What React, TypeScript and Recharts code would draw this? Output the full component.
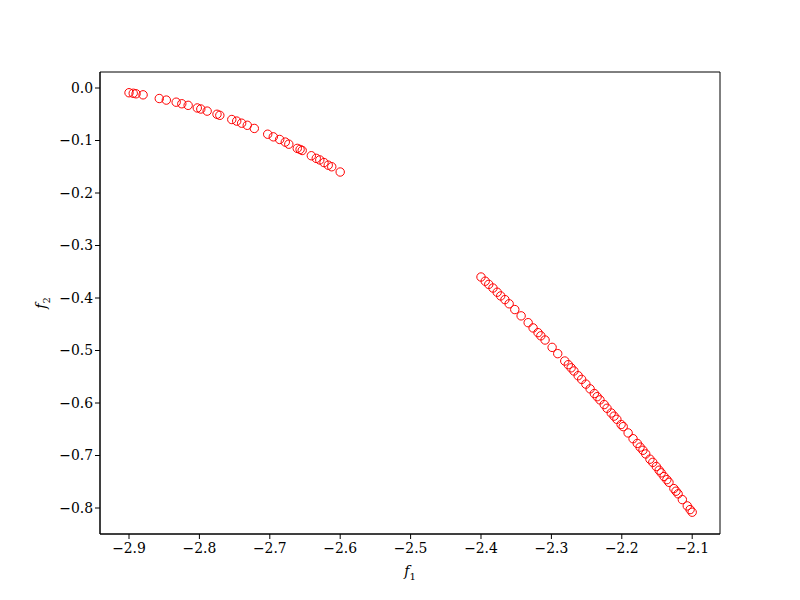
import { ScatterChart, Scatter, XAxis, YAxis, ReferenceArea } from 'recharts'

// f1 / f2, left front and right front
const leftF1 = [
  -2.900, -2.894, -2.890, -2.880, -2.857, -2.847, -2.833, -2.825, -2.816, -2.803,
  -2.798, -2.789, -2.775, -2.771, -2.754, -2.747, -2.740, -2.732, -2.722, -2.703,
  -2.695, -2.686, -2.678, -2.673, -2.661, -2.657, -2.654, -2.641, -2.634, -2.629,
  -2.623, -2.617, -2.612, -2.600,
]
const leftF2 = [
  -0.009, -0.010, -0.011, -0.013, -0.020, -0.023, -0.027, -0.030, -0.033, -0.038,
  -0.040, -0.044, -0.050, -0.052, -0.060, -0.063, -0.067, -0.071, -0.077, -0.088,
  -0.093, -0.098, -0.103, -0.107, -0.115, -0.117, -0.119, -0.129, -0.134, -0.137,
  -0.142, -0.147, -0.150, -0.160,
]
const rightF1 = [
  -2.400, -2.394, -2.389, -2.383, -2.377, -2.372, -2.366, -2.360, -2.352, -2.343,
  -2.333, -2.326, -2.319, -2.315, -2.309, -2.299, -2.291, -2.281, -2.276, -2.272,
  -2.268, -2.262, -2.257, -2.251, -2.245, -2.239, -2.235, -2.231, -2.225, -2.221,
  -2.215, -2.211, -2.207, -2.201, -2.198, -2.191, -2.184, -2.178, -2.174, -2.170,
  -2.166, -2.160, -2.156, -2.151, -2.147, -2.144, -2.140, -2.136, -2.133, -2.126,
  -2.123, -2.120, -2.114, -2.107, -2.103, -2.100,
]
const rightF2 = [
  -0.360, -0.368, -0.374, -0.381, -0.389, -0.396, -0.403, -0.411, -0.422, -0.434,
  -0.447, -0.457, -0.466, -0.472, -0.480, -0.494, -0.506, -0.520, -0.527, -0.533,
  -0.539, -0.548, -0.555, -0.564, -0.573, -0.582, -0.588, -0.594, -0.603, -0.610,
  -0.619, -0.625, -0.631, -0.641, -0.645, -0.657, -0.668, -0.677, -0.684, -0.690,
  -0.697, -0.707, -0.713, -0.721, -0.728, -0.733, -0.740, -0.746, -0.751, -0.763,
  -0.768, -0.773, -0.784, -0.796, -0.803, -0.808,
]

const xTicks = [-2.9, -2.8, -2.7, -2.6, -2.5, -2.4, -2.3, -2.2, -2.1]
const yTicks = [0, -0.1, -0.2, -0.3, -0.4, -0.5, -0.6, -0.7, -0.8]
const xDomain = [-2.9412, -2.0605]
const yDomain = [-0.8495, 0.0305]

const points = [
  ...leftF1.map((x, i) => ({ f1: x, f2: leftF2[i] })),
  ...rightF1.map((x, i) => ({ f1: x, f2: rightF2[i] })),
]

const font = '"DejaVu Serif", serif'
const fmt = (v: number) => (Math.abs(v) < 1e-9 ? '0.0' : (v < 0 ? '\u2212' : '') + Math.abs(v).toFixed(1))

const Ring = (p: any) => (
  <circle cx={p.cx} cy={p.cy} r={4.2} fill="none" stroke="#ff0000" strokeWidth={1} />
)

const XLabel = ({ viewBox }: any) => (
  <text x={viewBox.x + viewBox.width / 2} y={viewBox.y + 42} textAnchor="middle" fontFamily={font} fontSize={14} fill="#000">
    <tspan fontStyle="italic">f</tspan>
    <tspan fontSize={10} dy={4}>1</tspan>
  </text>
)

const YLabel = ({ viewBox }: any) => {
  const x = viewBox.x + viewBox.width - 54
  const y = viewBox.y + viewBox.height / 2
  return (
    <text x={x} y={y} transform={`rotate(-90 ${x} ${y})`} textAnchor="middle" fontFamily={font} fontSize={14} fill="#000">
      <tspan fontStyle="italic">f</tspan>
      <tspan fontSize={10} dy={4}>2</tspan>
    </text>
  )
}

export default function App() {
  return (
    <div style={{ position: 'absolute', left: 0, top: 0, width: 800, height: 600, background: '#fff' }}>
      <ScatterChart width={800} height={600} margin={{ top: 72, right: 80, bottom: 36, left: 40 }}>
        <XAxis
          xAxisId="b" type="number" dataKey="f1" domain={xDomain} ticks={xTicks}
          tickFormatter={fmt} height={30} stroke="#000" tickSize={5}
          tick={{ fill: '#000', fontSize: 13.9, fontFamily: font, dy: 2 }} label={<XLabel />}
          allowDataOverflow
        />
        <YAxis
          yAxisId="l" type="number" dataKey="f2" domain={yDomain} ticks={yTicks}
          tickFormatter={fmt} width={60} stroke="#000" tickSize={5}
          tick={{ fill: '#000', fontSize: 13.9, fontFamily: font }} label={<YLabel />}
          allowDataOverflow
        />
        <ReferenceArea
          xAxisId="b" yAxisId="l"
          x1={xDomain[0]} x2={xDomain[1]} y1={yDomain[0]} y2={yDomain[1]}
          fill="#fff" fillOpacity={0} stroke="#000" strokeOpacity={1} strokeWidth={1} ifOverflow="extendDomain"
        />
        <Scatter xAxisId="b" yAxisId="l" data={points} shape={Ring} isAnimationActive={false} />
      </ScatterChart>
    </div>
  )
}
